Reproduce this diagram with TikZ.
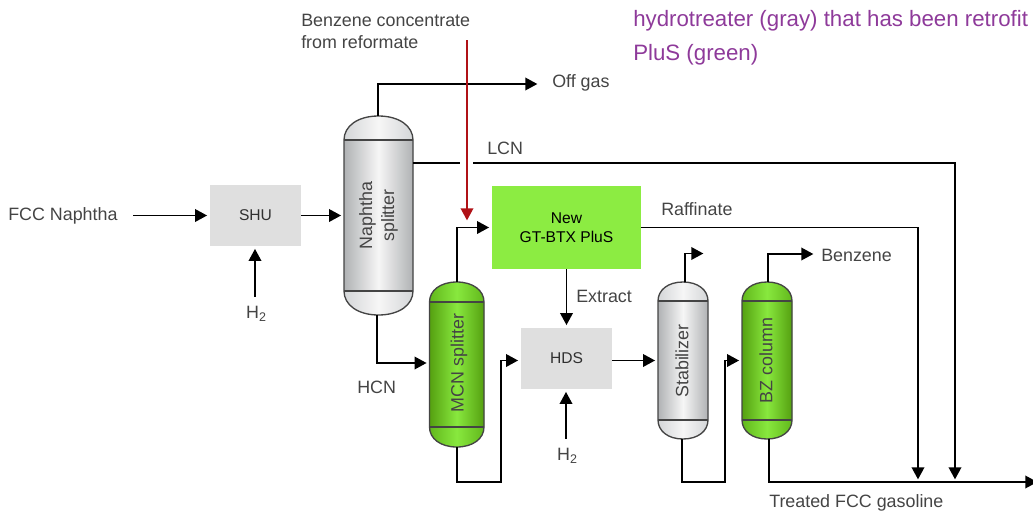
\documentclass[tikz,border=0pt]{standalone}
\usepackage{fontspec}
\setmainfont{Liberation Sans}
\usetikzlibrary{arrows.meta}

\definecolor{labelgray}{HTML}{444444}
\definecolor{boxgray}{HTML}{DFDFDF}
\definecolor{newgreen}{HTML}{8CEC42}
\definecolor{darkgreen}{HTML}{55A010}
\definecolor{midgreen}{HTML}{88E83E}
\definecolor{capgreen}{HTML}{62B81C}
\definecolor{darkgray}{HTML}{B0B2B4}
\definecolor{capgray}{HTML}{D4D6D8}
\definecolor{lightgray}{HTML}{F6F6F6}
\definecolor{purpletext}{HTML}{8E3A9A}
\definecolor{redfeed}{HTML}{B01116}

\tikzset{
  flow/.style={line width=1pt, black, -{Triangle[length=9pt,width=9.5pt]}, shorten >=2pt},
  pipe/.style={line width=1pt, black},
  unitbox/.style={fill=boxgray, minimum width=68.25pt, minimum height=45.75pt, inner sep=0pt,
    font=\fontsize{11.7}{14}\selectfont, text=labelgray!70!black},
  lbl/.style={font=\fontsize{13.4}{16.5}\selectfont, text=labelgray, inner sep=0pt, align=left},
  vesseltext/.style={rotate=90, font=\fontsize{13.4}{16.5}\selectfont, text=labelgray, inner sep=0pt, align=center}
}

% name, x left, x right, y top, y bottom, cap height, side colour, mid colour, cap side colour
\newcommand{\vessel}[9]{
  \pgfmathsetmacro\vm{(#2+#3)/2}
  \pgfmathsetmacro\vh{(#3-#2)*0.3}
  \def\vesselpath{(#2,#4+#6) .. controls (#2,#4+#6*0.42) and (\vm-\vh,#4) .. (\vm,#4)
    .. controls (\vm+\vh,#4) and (#3,#4+#6*0.42) .. (#3,#4+#6) -- (#3,#5-#6)
    .. controls (#3,#5-#6*0.42) and (\vm+\vh,#5) .. (\vm,#5)
    .. controls (\vm-\vh,#5) and (#2,#5-#6*0.42) .. (#2,#5-#6) -- cycle}
  \shade[left color=#9, right color=#9, middle color=#8] \vesselpath;
  \shade[left color=#7, right color=#7, middle color=#8] (#2,#4+#6) rectangle (#3,#5-#6);
  \draw[line width=1pt, labelgray] \vesselpath;
  \draw[line width=1pt, labelgray] (#2,#4+#6) -- (#3,#4+#6) (#2,#5-#6) -- (#3,#5-#6);
  \node[minimum width=#3*0.75pt-#2*0.75pt, minimum height=#5*0.75pt-#4*0.75pt, inner sep=0pt]
    (#1) at (\vm,{(#4+#5)/2}) {};
}

\begin{document}
\begin{tikzpicture}[x=0.75pt, y=-0.75pt, line join=miter]
  \useasboundingbox (0,0) rectangle (1033,511);
  \clip (0,0) rectangle (1033,511);

  % ---------------- columns ----------------
  \vessel{naph}{344}{413}{116}{315}{24}{darkgray}{lightgray}{capgray}
  \vessel{mcn}{429.5}{484}{282}{447}{20}{darkgreen}{midgreen}{capgreen}
  \vessel{stab}{658}{708}{282}{439}{19}{darkgray}{lightgray}{capgray}
  \vessel{bz}{742}{792}{282}{439}{19}{darkgreen}{midgreen}{capgreen}
  \node[vesseltext] (naphtext) at (naph.center) {Naphtha\\splitter};
  \node[vesseltext] (mcntext) at (459,363) {MCN splitter};
  \node[vesseltext] (stabtext) at (682,361) {Stabilizer};
  \node[vesseltext] (bztext) at (766,360.5) {BZ column};

  % ---------------- boxes ----------------
  \node[unitbox] (shu) at (255.5,215.5) {SHU};
  \node[unitbox] (hds) at (566.5,358.5) {HDS};
  \node[unitbox, fill=newgreen, minimum width=111.75pt, minimum height=62.25pt, text=black,
    align=center] (gt) at (566.5,227.5) {New\\GT-BTX PluS};

  % ---------------- labels ----------------
  \node[lbl, anchor=west] (fcc) at (8,216) {FCC Naphtha};
  \node[lbl, anchor=north west] (conc) at (301,14) {Benzene concentrate\\from reformate};
  \node[lbl, anchor=west] (offgas) at (552,83) {Off gas};
  \node[lbl, anchor=west] (lcn) at (487,148) {LCN};
  \node[lbl, anchor=west] (raff) at (661,209) {Raffinate};
  \node[lbl, anchor=west] (extract) at (576,296) {Extract};
  \node[lbl, anchor=west] (hcn) at (357,387) {HCN};
  \node[lbl, anchor=west] (benz) at (821,255) {Benzene};
  \node[lbl, anchor=west] (treated) at (769,503) {Treated FCC gasoline};
  \node[lbl] (htwoa) at (256.5,314) {H\textsubscript{2}};
  \node[lbl] (htwob) at (567.5,456) {H\textsubscript{2}};
  \node[lbl, anchor=north west, font=\fontsize{16.7}{25.5}\selectfont, text=purpletext] (note) at (633,10.5)
    {hydrotreater (gray) that has been retrofit\\PluS (green)};

  % ---------------- connectors ----------------
  \coordinate (fccend) at (133,215.5);
  \coordinate (offend) at (540,84);
  \coordinate (prodend) at (1040,482);
  \coordinate (gapa) at (460,163);
  \coordinate (gapb) at (473,163);
  \coordinate (raffend) at (918,482);
  \coordinate (lcnend) at (955,482);
  \coordinate (conctop) at (467,40);
  \coordinate (concend) at (467,223);

  \draw[flow] (fccend) -- (shu.west);
  \draw[flow] (shu.east) -- (naph.west |- shu.east);
  \draw[flow] ([yshift=7pt]htwoa.north -| 255,0) -- (shu.south -| 255,0);
  \draw[flow] ([yshift=7pt]htwob.north -| 566,0) -- (hds.south -| 566,0);
  \draw[flow] (naph.north -| 378,0) -- (378,84) -- (offend);
  \draw[pipe] (naph.east |- gapa) -- (gapa);
  \draw[flow] (gapb) -- (lcnend |- gapb) -- (lcnend);
  \draw[flow] (naph.south -| 377,0) -- (377,363) -- (mcn.west |- 0,363);
  \draw[flow] (mcn.north -| 457,0) -- (457,227.5) -- (gt.west);
  \draw[flow] (gt.east) -- (raffend |- gt.east) -- (raffend);
  \draw[flow] (gt.south) -- (hds.north);
  \draw[flow] (mcn.south -| 457,0) -- (457,482) -- (501,482) -- (501,360.5) -- (hds.west |- 0,360.5);
  \draw[flow] (hds.east |- 0,360.5) -- (stab.west |- 0,360.5);
  \draw[flow] (stab.south -| 682,0) -- (682,482) -- (725,482) -- (725,360.5) -- (bz.west |- 0,360.5);
  \draw[flow] (stab.north -| 685,0) -- (685,253.5) -- (706,253.5);
  \draw[flow] (bz.north -| 768,0) -- (768,254) -- (816,254);
  \draw[flow] (bz.south -| 769,0) -- (769,482) -- (prodend);
  \draw[flow, draw=redfeed, fill=redfeed] (conctop) -- (concend);
\end{tikzpicture}
\end{document}
